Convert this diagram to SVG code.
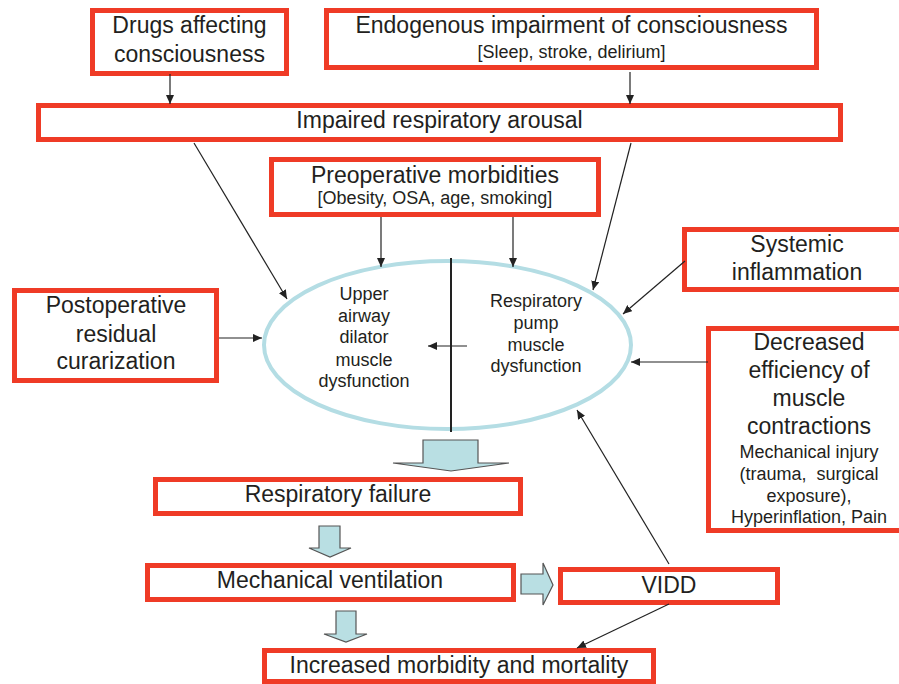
<svg xmlns="http://www.w3.org/2000/svg" width="899" height="684" viewBox="0 0 899 684">
<style>
.box{fill:#fff;stroke:#ef3b26;stroke-width:5}
.t{font-family:"Liberation Sans",Arial,sans-serif;font-size:23px;fill:#231f20;text-anchor:middle}
.s{font-size:18px}
.c{stroke:#222;stroke-width:1.2;fill:none}
.blk{fill:#b9dfe3;stroke:#555;stroke-width:1.2;stroke-linejoin:miter}
</style>
<defs>
<marker id="ah" markerUnits="userSpaceOnUse" markerWidth="10" markerHeight="8" refX="9" refY="4" orient="auto">
<path d="M0,0 L9,4 L0,8 Z" fill="#222"/>
</marker>
</defs>
<rect width="899" height="684" fill="#fff"/>

<g id="drugs">
<rect class="box" x="92.5" y="10.5" width="194" height="63"/>
<text class="t" x="189.5" y="33">Drugs affecting</text>
<text class="t" x="189.5" y="62">consciousness</text>
</g>
<g id="endogenous">
<rect class="box" x="326.5" y="10.5" width="490" height="57"/>
<text class="t" x="571.5" y="33">Endogenous impairment of consciousness</text>
<text class="t s" x="571.5" y="58">[Sleep, stroke, delirium]</text>
</g>
<g id="arousal">
<rect class="box" x="38.5" y="105.5" width="802" height="34"/>
<text class="t" x="439.5" y="128">Impaired respiratory arousal</text>
</g>
<g id="preop">
<rect class="box" x="271.5" y="159.5" width="327" height="55"/>
<text class="t" x="435" y="183">Preoperative morbidities</text>
<text class="t s" x="435" y="204">[Obesity, OSA, age, smoking]</text>
</g>
<g id="postop">
<rect class="box" x="14.5" y="290.5" width="202" height="90"/>
<text class="t" x="116" y="313">Postoperative</text>
<text class="t" x="116" y="342">residual</text>
<text class="t" x="116" y="369">curarization</text>
</g>
<g id="systemic">
<rect class="box" x="684.5" y="229.5" width="222" height="60"/>
<text class="t" x="797" y="252">Systemic</text>
<text class="t" x="797" y="280">inflammation</text>
</g>
<g id="decreased">
<rect class="box" x="708.5" y="328.5" width="200" height="202"/>
<text class="t" x="809" y="350">Decreased</text>
<text class="t" x="809" y="378">efficiency of</text>
<text class="t" x="809" y="406">muscle</text>
<text class="t" x="809" y="434">contractions</text>
<text class="t s" x="809" y="458">Mechanical injury</text>
<text class="t s" x="809" y="480" xml:space="preserve">(trauma,  surgical</text>
<text class="t s" x="809" y="502">exposure),</text>
<text class="t s" x="809" y="523">Hyperinflation, Pain</text>
</g>
<g id="dysfunction">
<ellipse cx="447.5" cy="345" rx="183.5" ry="84" fill="#fff" stroke="#b4dde4" stroke-width="4"/>
<text class="t s" x="364" y="300">Upper</text>
<text class="t s" x="364" y="322">airway</text>
<text class="t s" x="364" y="343">dilator</text>
<text class="t s" x="364" y="366">muscle</text>
<text class="t s" x="364" y="387">dysfunction</text>
<text class="t s" x="536" y="307">Respiratory</text>
<text class="t s" x="536" y="329">pump</text>
<text class="t s" x="536" y="351">muscle</text>
<text class="t s" x="536" y="372">dysfunction</text>
</g>
<g id="respfail">
<rect class="box" x="155.5" y="479.5" width="365" height="34"/>
<text class="t" x="338" y="502">Respiratory failure</text>
</g>
<g id="mechvent">
<rect class="box" x="147.5" y="565.5" width="366" height="34"/>
<text class="t" x="330" y="588">Mechanical ventilation</text>
</g>
<g id="vidd">
<rect class="box" x="560.5" y="569.5" width="217" height="33"/>
<text class="t" x="669" y="593">VIDD</text>
</g>
<g id="morbidity">
<rect class="box" x="264.5" y="650.5" width="389" height="31"/>
<text class="t" x="459" y="673">Increased morbidity and mortality</text>
</g>

<g id="connectors">
<line class="c" x1="170" y1="74" x2="170" y2="104" marker-end="url(#ah)"/>
<line class="c" x1="630" y1="72" x2="630" y2="104" marker-end="url(#ah)"/>
<line class="c" x1="194" y1="143" x2="287" y2="299" marker-end="url(#ah)"/>
<line class="c" x1="631" y1="143" x2="593" y2="290" marker-end="url(#ah)"/>
<line class="c" x1="381" y1="217" x2="381" y2="267" marker-end="url(#ah)"/>
<line class="c" x1="513" y1="217" x2="513" y2="267" marker-end="url(#ah)"/>
<line class="c" x1="219" y1="338" x2="262" y2="338" marker-end="url(#ah)"/>
<line class="c" x1="685" y1="261" x2="623" y2="314" marker-end="url(#ah)"/>
<line class="c" x1="708" y1="362" x2="631" y2="362" marker-end="url(#ah)"/>
<line class="c" x1="467" y1="346" x2="428" y2="346" marker-end="url(#ah)"/>
<line class="c" x1="669" y1="564" x2="577" y2="410" marker-end="url(#ah)"/>
<line class="c" x1="669" y1="604" x2="577" y2="648" marker-end="url(#ah)"/>
<line x1="451" y1="258" x2="451" y2="432" stroke="#222" stroke-width="2"/>
<path class="blk" d="M423,440 H478 V463 H509 L451,471 L393,463 H423 Z"/>
<path class="blk" d="M319,526 H340 V548 H351 L330,557 L309,548 H319 Z"/>
<path class="blk" d="M336,611 H356 V634 H367 L346,642 L324,634 H336 Z"/>
<path class="blk" d="M521,574 H543 V563 L553,585 L543,605 V594 H521 Z"/>
</g>
</svg>
